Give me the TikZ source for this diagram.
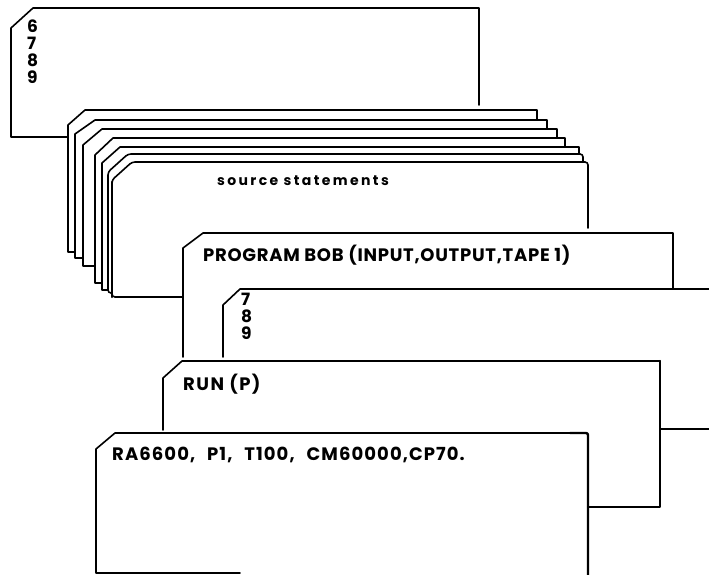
\documentclass[tikz,border=0pt]{standalone}
\usepackage{fontspec}
\setmainfont{Poppins}
\newfontfamily\srcfont[LetterSpace=17]{Poppins}
\newfontfamily\progfont[LetterSpace=4]{Poppins}
\newfontfamily\rafont[LetterSpace=6]{Poppins}
\newfontfamily\runfont[LetterSpace=8]{Poppins}
\begin{document}
\begin{tikzpicture}[x=1pt,y=-1pt,
  edge/.style={line width=1.6pt, line cap=round, line join=round},
  heavy/.style={line width=2.4pt, line cap=round, line join=round},
  lbl/.style={anchor=west, inner sep=0pt},
  digits/.style={anchor=north west, inner sep=0pt, align=left, font=\bfseries\fontsize{17}{17}\selectfont}]
\useasboundingbox (0,0) rectangle (709,575);
% top card 6789
\draw[edge] (479,105) -- (479,8) -- (33,8) -- (11,28) -- (11,137) -- (68,137);
% stack of source cards
\draw[edge] (537,120) -- (537,110) -- (85,110) -- (68,125) -- (68,252) -- (75,252);
\draw[edge] (547,129) -- (547,120) -- (95,120) -- (75,134) -- (75,258) -- (83,258);
\draw[edge] (557,138) -- (557,129) -- (102,129) -- (83,145) -- (83,266) -- (95,266);
\draw[edge] (565,147) -- (565,138) -- (113,138) -- (95,155) -- (95,283) -- (102,283);
\draw[edge] (579,154) -- (579,147) -- (120,147) -- (102,163) -- (102,290) -- (108,290);
\draw[edge, rounded corners=3pt] (583,162) -- (583,154) -- (128,154) -- (108,172) -- (108,293) -- (112,293);
\draw[edge, rounded corners=3pt] (588,228) -- (588,162) -- (132,162) -- (112,180) -- (112,297) -- (183,297);
\draw[heavy] (112,182) -- (112,297);
% PROGRAM card
\draw[edge] (673,289) -- (673,233) -- (203,233) -- (183,248) -- (183,357);
% 789 card
\draw[edge] (709,289) -- (240,289) -- (223,305) -- (223,357);
\draw[edge] (660,429) -- (709,429);
% RUN card
\draw[heavy] (588,507) -- (660,507) -- (660,361);
\draw[edge] (660,361) -- (182,361) -- (163,378) -- (163,430);
% RA card
\draw[edge] (240,573) -- (96,573) -- (96,449) -- (115,433) -- (585,433);
\draw[heavy, rounded corners=2pt] (570,433) -- (588,433) -- (588,576);
% labels
\node[digits] (d6789) at (27,20) {6\\7\\8\\9};
\node[lbl, font=\srcfont\bfseries\fontsize{14}{14}\selectfont] (src) at (217,181) {source statements};
\node[lbl, font=\progfont\bfseries\fontsize{18}{18}\selectfont] (prog) at (203,255) {PROGRAM BOB (INPUT,OUTPUT,TAPE 1)};
\node[digits] (d789) at (241,293) {7\\8\\9};
\node[lbl, font=\runfont\bfseries\fontsize{18}{18}\selectfont] (run) at (183,384) {RUN (P)};
\node[lbl, font=\rafont\bfseries\fontsize{18}{18}\selectfont] (ra) at (112,455) {RA6600,\hspace{7pt} P1,\hspace{7pt} T100,\hspace{7pt} CM60000,CP70.};
\end{tikzpicture}
\end{document}
